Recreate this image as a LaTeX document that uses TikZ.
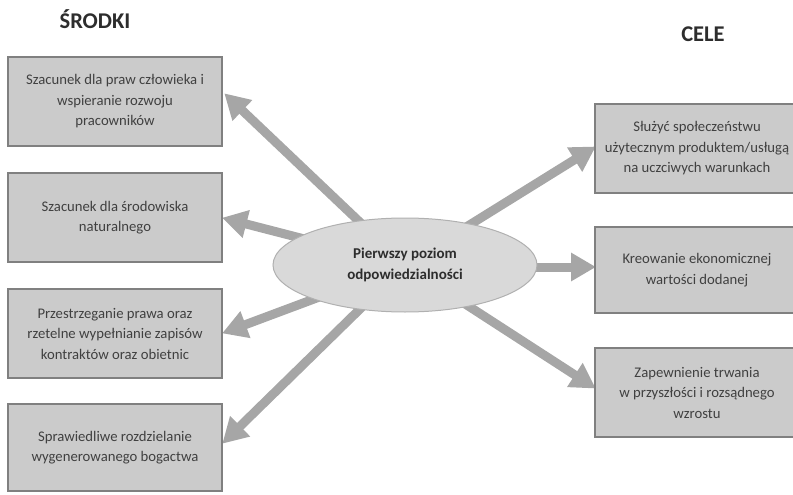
\documentclass[tikz,border=0pt]{standalone}
\usepackage{fontspec}
\setmainfont{Carlito}
\usetikzlibrary{arrows.meta,shapes.geometric,backgrounds}
\definecolor{boxfill}{HTML}{CBCBCB}
\definecolor{boxline}{HTML}{808080}
\definecolor{ellfill}{HTML}{D9D9D9}
\definecolor{ellline}{HTML}{B0B0B0}
\definecolor{arrowgray}{HTML}{A6A6A6}
\definecolor{txt}{HTML}{404040}
\begin{document}
\begin{tikzpicture}[x=1pt,y=-1pt,
  box/.style={draw=boxline,line width=1.6pt,fill=boxfill,minimum width=214pt,minimum height=89pt,
    inner sep=0pt,align=center,text=txt,font=\fontsize{14.7}{20.5}\selectfont},
  rbox/.style={box,minimum width=204pt},
  hub/.style={ellipse,draw=ellline,line width=1pt,fill=ellfill,minimum width=264pt,minimum height=94pt,
    inner sep=0pt,align=center,text=txt!70!black,font=\fontsize{15}{20.5}\selectfont\bfseries},
  title/.style={text=txt!70!black,font=\fontsize{22.5}{26}\selectfont\bfseries},
  link/.style={draw=arrowgray,line width=9pt,-{Triangle[width=27pt,length=25pt]},shorten >=-1pt}]
\useasboundingbox (0,0) rectangle (793,495);
\clip (0,0) rectangle (793,495);

\node[title] (srodki) at (95,19) {ŚRODKI};
\node[title] (cele) at (703,34) {CELE};

\node[box] (b1) at (115,101.5) {Szacunek dla praw człowieka i\\wspieranie rozwoju\\pracowników};
\node[box] (b2) at (115,217.5) {Szacunek dla środowiska\\naturalnego};
\node[box] (b3) at (115,333.5) {Przestrzeganie prawa oraz\\rzetelne wypełnianie zapisów\\kontraktów oraz obietnic};
\node[box,minimum height=87pt] (b4) at (115,447.5) {Sprawiedliwe rozdzielanie\\wygenerowanego bogactwa};

\node[rbox] (r1) at (697,148.5) {Służyć społeczeństwu\\użytecznym produktem/usługą\\na uczciwych warunkach};
\node[rbox,minimum height=86pt] (r2) at (697,270) {Kreowanie ekonomicznej\\wartości dodanej};
\node[rbox] (r3) at (697,392.5) {Zapewnienie trwania\\w przyszłości i rozsądnego\\wzrostu};

\node[hub] (hub) at (405,265) {Pierwszy poziom\\odpowiedzialności};

\coordinate (t1) at (225,94);
\coordinate (t2) at (223,218);
\coordinate (t3) at (223,333);
\coordinate (t4) at (223,443);
\coordinate (t5) at (595,147);
\coordinate (t6) at (595,267);
\coordinate (t7) at (595,388);
\coordinate (s6) at (405,267);

\begin{scope}[on background layer]
\draw[link] (hub.center) -- (t1);
\draw[link] (hub.center) -- (t2);
\draw[link] (hub.center) -- (t3);
\draw[link] (hub.center) -- (t4);
\draw[link] (hub.center) -- (t5);
\draw[link] (s6) -- (t6);
\draw[link] (hub.center) -- (t7);
\end{scope}
\end{tikzpicture}
\end{document}
